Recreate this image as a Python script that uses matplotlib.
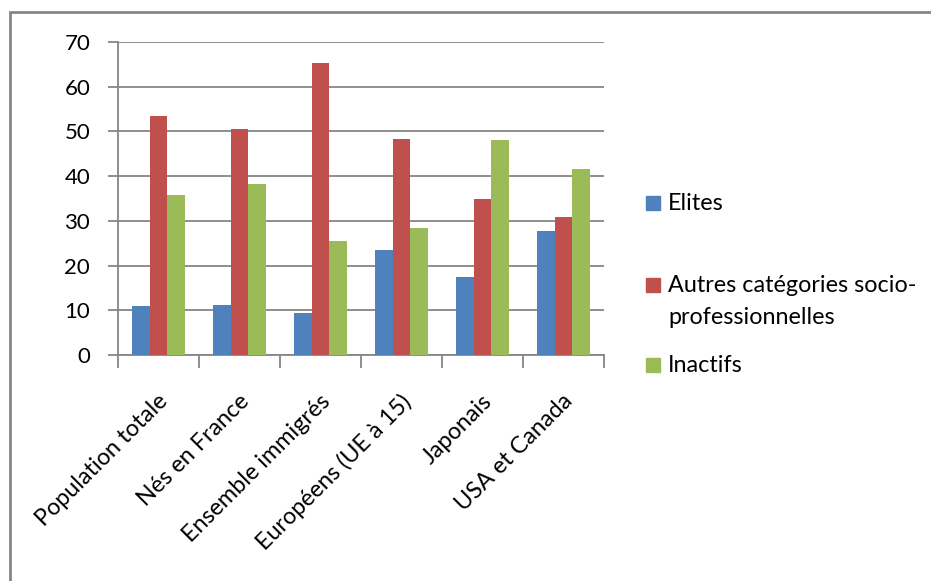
import matplotlib
matplotlib.use("Agg")
import matplotlib.pyplot as plt
import numpy as np
from matplotlib.patches import Rectangle
from matplotlib.transforms import ScaledTranslation

categories = ["Population totale", "Nés en France", "Ensemble immigrés",
              "Européens (UE à 15)", "Japonais", "USA et Canada"]
elites = [11.0, 11.2, 9.4, 23.5, 17.4, 27.7]
autres = [53.5, 50.6, 65.3, 48.3, 34.9, 30.9]
inactifs = [35.8, 38.3, 25.5, 28.4, 48.1, 41.6]
series_names = ["Elites", "Autres catégories socio-", "professionnelles", "Inactifs"]
colors = ["#4F81BD", "#C0504D", "#9BBB59"]
yticks = [0, 10, 20, 30, 40, 50, 60, 70]

plt.rcParams['font.family'] = ['Lato', 'DejaVu Sans']
FS = 16.8
GRAY = "#868686"

W, H = 931, 581
fig = plt.figure(figsize=(W / 100, H / 100), dpi=100)
ax = fig.add_axes([118 / W, 1 - 355 / H, (604 - 118) / W, (355 - 42) / H])

x = np.arange(len(categories))
bw = 0.215
for i, (vals, c) in enumerate(zip([elites, autres, inactifs], colors)):
    ax.bar(x + (i - 1) * bw, vals, width=bw, color=c, zorder=3, linewidth=0)

ax.set_xlim(-0.5, len(categories) - 0.5)
ax.set_ylim(0, 70)
ax.set_yticks(yticks)
ax.set_yticklabels([str(v) for v in yticks], fontsize=FS - 0.8)
ax.yaxis.grid(True, color=GRAY, linewidth=1.3, zorder=0)
ax.set_xticks(np.arange(len(categories) + 1) - 0.5)
ax.set_xticklabels([])
for s in ["top", "right"]:
    ax.spines[s].set_visible(False)
for s in ["left", "bottom"]:
    ax.spines[s].set_color(GRAY)
    ax.spines[s].set_linewidth(1.3)
ax.tick_params(axis="both", direction="out", color=GRAY, width=1.3, length=7)
ax.tick_params(axis="y", pad=13, labelcolor="black")
ax.tick_params(axis="x", length=9)

trans = ax.get_xaxis_transform() + ScaledTranslation(6 / 100, -43 / 100, fig.dpi_scale_trans)
for xi, lab in zip(x, categories):
    ax.text(xi, 0, lab, transform=trans, rotation=45, rotation_mode="anchor",
            ha="right", va="center", fontsize=FS, color="black")

# legend drawn in figure pixels
sq_y = [203, 285, 365]
for yc, c in zip(sq_y, colors):
    fig.patches.append(Rectangle((646 / W, 1 - (yc + 7) / H), 14 / W, 14 / H,
                                 transform=fig.transFigure, color=c))
text_y = [203, 285, 317, 365]
for yc, name in zip(text_y, series_names):
    fig.text(668 / W, 1 - yc / H, name, fontsize=FS, va="center", ha="left")

# outer chart border
fig.patches.append(Rectangle((10 / W, -0.1), 1.2, 1 - 12 / H + 0.1, transform=fig.transFigure,
                             fill=False, edgecolor=GRAY, linewidth=2))

fig.savefig("out.png", dpi=100)
